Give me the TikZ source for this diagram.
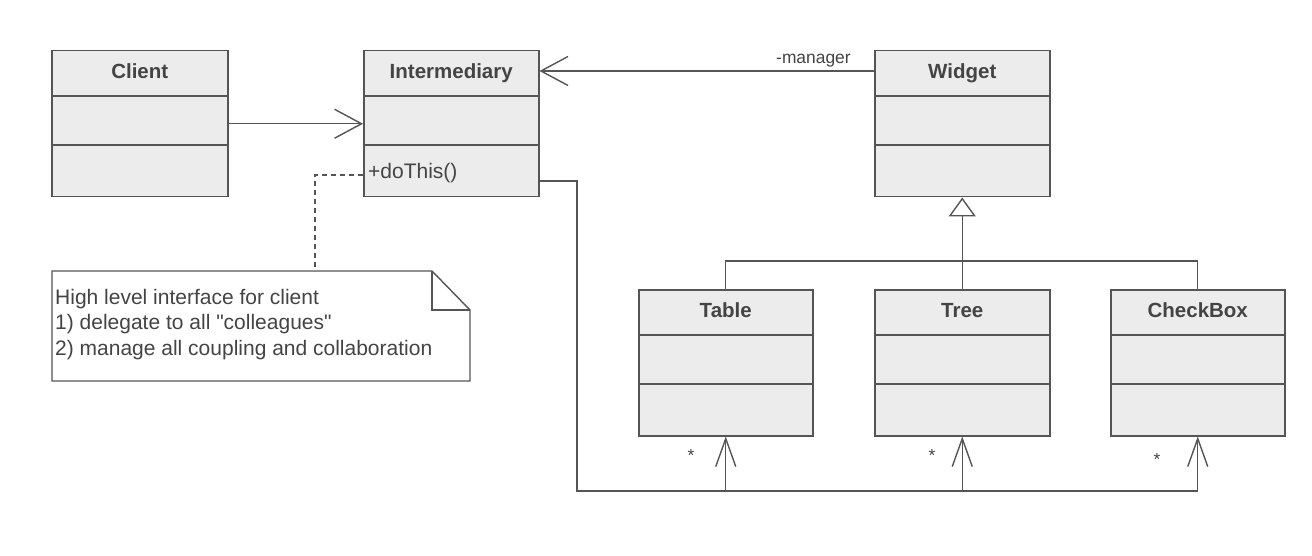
\documentclass[tikz,border=0pt]{standalone}
\usepackage{fontspec}
\setmainfont{Liberation Sans}
\usetikzlibrary{arrows.meta}
\definecolor{ln}{HTML}{555555}
\definecolor{bx}{HTML}{ECECEC}
\definecolor{tx}{HTML}{444444}
\newcommand\umlbox[5]{%
  \node[clsbox, minimum width=#4pt, minimum height=146pt] (#1) at (#2,#3) {};
  \draw[conn] ([yshift=-46pt]#1.north west) -- ([yshift=-46pt]#1.north east);
  \draw[conn] ([yshift=-95pt]#1.north west) -- ([yshift=-95pt]#1.north east);
  \node[ttl] (#1-t) at ([yshift=-28.5pt]#1.north) {#5};
}
\begin{document}
\begin{tikzpicture}[x=1pt,y=-1pt,
  clsbox/.style={draw=ln, fill=bx, line width=1.5pt, inner sep=0pt, anchor=north west},
  ttl/.style={font=\fontsize{20.5}{24}\selectfont\bfseries, text=tx, anchor=base, inner sep=0pt},
  txt/.style={font=\fontsize{21}{25.5}\selectfont, text=tx, inner sep=0pt},
  small/.style={font=\fontsize{17.4}{20}\selectfont, text=tx, inner sep=0pt},
  conn/.style={draw=ln, line width=1.4pt},
  hopen/.style={-{Straight Barb[length=27pt,width=29pt]}},
  vopen/.style={-{Straight Barb[length=28pt,width=20pt]}},
  gen/.style={-{Triangle[open,length=19pt,width=27pt,fill=white]}}]
\useasboundingbox[fill=white] (0,0) rectangle (1312,556);

\umlbox{client}{51}{50}{176}{Client}
\umlbox{inter}{363}{50}{175}{Intermediary}
\umlbox{widget}{874}{50}{175}{Widget}
\umlbox{table}{638}{289}{174}{Table}
\umlbox{tree}{874}{289}{175}{Tree}
\umlbox{checkbox}{1110}{289}{174}{CheckBox}

\node[txt, anchor=base west] (dothis) at (368,179) {+doThis()};

% associations
\draw[conn,hopen] (client.east) -- (inter.west);
\draw[conn,hopen] (widget.west |- 0,71) -- (inter.east |- 0,71);
\node[small, anchor=base west] (mgr) at (776,64) {-manager};

% generalization
\coordinate (gbar) at (961.5,261);
\draw[conn] (table.north) |- (gbar) -| (checkbox.north);
\draw[conn,gen] (tree.north) -- (widget.south);

% bus from Intermediary
\coordinate (busA) at (577,491);
\draw[conn] (inter.east |- 0,181) -| (busA) -- (checkbox.south |- busA);
\draw[conn,vopen] (table.south |- busA) -- (table.south);
\draw[conn,vopen] (tree.south |- busA) -- (tree.south);
\draw[conn,vopen] (checkbox.south |- busA) -- (checkbox.south);
\node[small] (s1) at (691,456) {*};
\node[small] (s2) at (932,456) {*};
\node[small] (s3) at (1157,460) {*};

% note
\draw[conn, fill=white] (52,271) -- (432,271) -- (470,310) -- (470,381) -- (52,381) -- cycle;
\draw[conn] (432,271) -- (432,310) -- (470,310);
\coordinate (notetop) at (315,271);
\node[txt, anchor=north west, align=left] (note) at (55,289)
  {High level interface for client\\1) delegate to all \textquotedbl colleagues\textquotedbl\\2) manage all coupling and collaboration};
\draw[conn, dashed, dash pattern=on 5pt off 4pt] (inter.west |- 0,175) -| (notetop);
\end{tikzpicture}
\end{document}
